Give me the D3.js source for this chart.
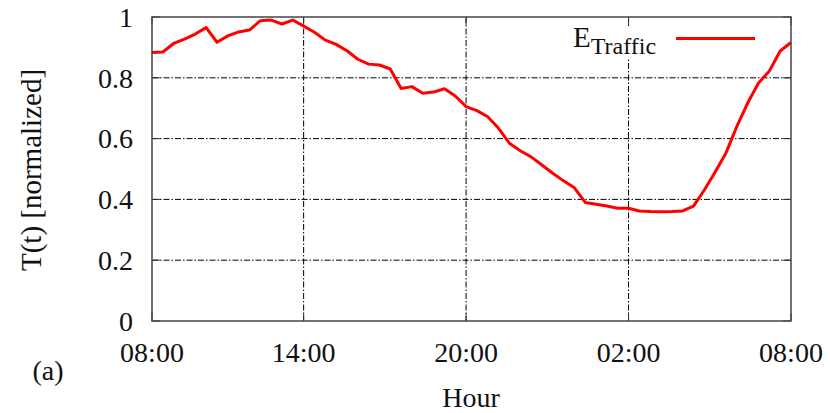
<!DOCTYPE html>
<html>
<head>
<meta charset="utf-8">
<script src="https://cdn.jsdelivr.net/npm/d3@7"></script>
<style>
  html, body { margin: 0; padding: 0; background: #fff; }
  svg { display: block; }
  text { font-family: "Liberation Serif", "Times New Roman", serif; fill: #111; }
</style>
</head>
<body>
<svg id="chart" width="830" height="413"></svg>
<script>
// ---- data ----
const hours = [
  8.4, 8.8, 9.2, 9.6, 10.0, 10.4, 10.8, 11.2, 11.6, 12.0,
  12.4, 12.8, 13.2, 13.6, 14.0, 14.4, 14.8, 15.2, 15.6, 16.0,
  16.4, 16.8, 17.2, 17.6, 18.0, 18.4, 18.8, 19.2, 19.6, 20.0,
  20.4, 20.8, 21.2, 21.6, 22.0, 22.4, 22.8, 23.2, 23.6, 24.0,
  24.4, 24.8, 25.2, 25.6, 26.0, 26.4, 26.8, 27.2, 27.6, 28.0,
  28.4, 28.8, 29.2, 29.6, 30.0, 30.4, 30.8, 31.2, 31.6, 32.0
];
const traffic = [
  0.883, 0.885, 0.913, 0.927, 0.944, 0.965, 0.917, 0.938, 0.951, 0.957,
  0.988, 0.990, 0.977, 0.990, 0.970, 0.950, 0.924, 0.910, 0.889, 0.861,
  0.845, 0.842, 0.829, 0.765, 0.771, 0.749, 0.753, 0.764, 0.740, 0.705,
  0.692, 0.672, 0.634, 0.585, 0.560, 0.540, 0.513, 0.486, 0.461, 0.438,
  0.390, 0.384, 0.378, 0.371, 0.371, 0.362, 0.360, 0.359, 0.360, 0.362,
  0.378, 0.431, 0.490, 0.553, 0.640, 0.717, 0.783, 0.822, 0.888, 0.916
];
const xTickValues = [8.4, 14, 20, 26, 32];
const xTickLabels = ["08:00", "14:00", "20:00", "02:00", "08:00"];
const yTickValues = [0, 0.2, 0.4, 0.6, 0.8, 1];
const yTickLabels = ["0", "0.2", "0.4", "0.6", "0.8", "1"];
const seriesName = "E";
const seriesSub = "Traffic";

// ---- layout ----
const svg = d3.select("#chart");
const L = 152, R = 791, T = 17, B = 321;
const x = d3.scaleLinear().domain([8.4, 32]).range([L, R]);
const y = d3.scaleLinear().domain([0, 1]).range([B, T]);
const FS = 28;

// grid
const grid = svg.append("g").attr("stroke", "#000").attr("stroke-width", 1)
  .attr("stroke-dasharray", "6,2,1.5,2").attr("fill", "none");
yTickValues.filter(v => v > 0 && v < 1).forEach(v => {
  grid.append("line").attr("x1", L).attr("x2", R).attr("y1", y(v)).attr("y2", y(v));
});
xTickValues.slice(1, -1).forEach(v => {
  grid.append("line").attr("x1", x(v)).attr("x2", x(v)).attr("y1", T).attr("y2", B);
});

// tick marks (inward, mirrored)
const tk = svg.append("g").attr("stroke", "#333").attr("stroke-width", 1);
yTickValues.forEach(v => {
  tk.append("line").attr("x1", L).attr("x2", L + 8).attr("y1", y(v)).attr("y2", y(v));
  tk.append("line").attr("x1", R).attr("x2", R - 8).attr("y1", y(v)).attr("y2", y(v));
});
xTickValues.forEach(v => {
  tk.append("line").attr("x1", x(v)).attr("x2", x(v)).attr("y1", B).attr("y2", B - 8);
  tk.append("line").attr("x1", x(v)).attr("x2", x(v)).attr("y1", T).attr("y2", T + 8);
});

// legend background (opaque key)
svg.append("rect").attr("x", 566).attr("y", 26).attr("width", 196).attr("height", 32).attr("fill", "#fff");

// data line
const line = d3.line().x((d, i) => x(hours[i])).y(d => y(d));
svg.append("path").datum(traffic).attr("d", line)
  .attr("fill", "none").attr("stroke", "#ff0000").attr("stroke-width", 3)
  .attr("stroke-linejoin", "round");

// frame
svg.append("rect").attr("x", L).attr("y", T).attr("width", R - L).attr("height", B - T)
  .attr("fill", "none").attr("stroke", "#444").attr("stroke-width", 1.5);

// y tick labels
yTickValues.forEach((v, i) => {
  svg.append("text").attr("x", 133).attr("y", y(v)).attr("dy", "0.35em")
    .attr("text-anchor", "end").attr("font-size", FS).text(yTickLabels[i]);
});
// x tick labels
xTickValues.forEach((v, i) => {
  svg.append("text").attr("x", x(v)).attr("y", 352).attr("dy", "0.35em")
    .attr("text-anchor", "middle").attr("font-size", FS).text(xTickLabels[i]);
});

// axis titles
svg.append("text").attr("transform", "translate(31,170) rotate(-90)")
  .attr("text-anchor", "middle").attr("dy", "0.35em").attr("font-size", 29)
  .text("T(t) [normalized]");
svg.append("text").attr("x", 471).attr("y", 397).attr("dy", "0.35em")
  .attr("text-anchor", "middle").attr("font-size", FS).text("Hour");
svg.append("text").attr("x", 48).attr("y", 370).attr("dy", "0.35em")
  .attr("text-anchor", "middle").attr("font-size", FS).text("(a)");

// legend
const lg = svg.append("text").attr("x", 573).attr("y", 47).attr("font-size", 29);
lg.append("tspan").text(seriesName);
lg.append("tspan").attr("dy", 7).attr("font-size", 24).text(seriesSub);
svg.append("line").attr("x1", 676).attr("x2", 755).attr("y1", 38.5).attr("y2", 38.5)
  .attr("stroke", "#ff0000").attr("stroke-width", 3);
</script>
</body>
</html>
